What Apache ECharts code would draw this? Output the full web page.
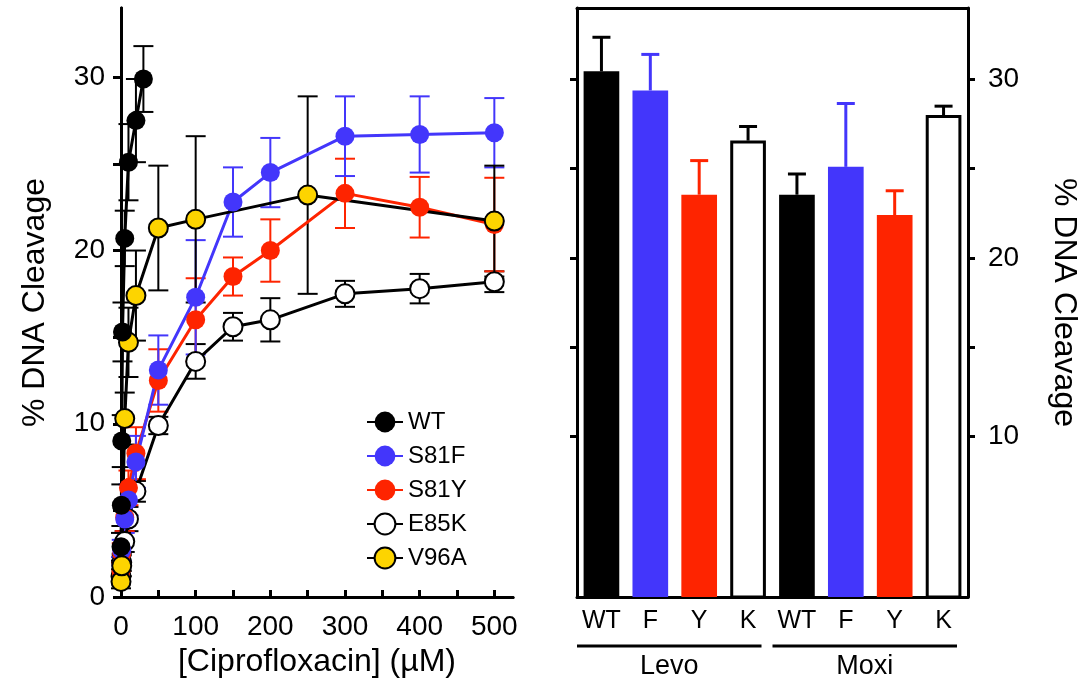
<!DOCTYPE html>
<html>
<head>
<meta charset="utf-8">
<script src="https://cdn.jsdelivr.net/npm/echarts@6/dist/echarts.min.js"></script>
<style>
  html, body { margin: 0; background: #fff; }
  #chart { width: 1081px; height: 692px; }
</style>
</head>
<body>
<div id="chart"></div>
<script>
// left panel: % cleavage vs [ciprofloxacin] (uM), value +/- error
const wtX = [0, 0.5, 1, 2, 5, 10, 20, 30];
const wtY = [2.9, 5.3, 9.0, 15.3, 20.7, 25.1, 27.5, 29.9];
const wtErr = [0.8, 1.2, 1.5, 1.7, 1.6, 2.2, 2.4, 1.9];

const s81fX = [0, 1, 5, 10, 20, 50, 100, 150, 200, 300, 400, 500];
const s81fY = [1.8, 2.7, 4.5, 5.6, 7.8, 13.1, 17.3, 22.8, 24.5, 26.6, 26.7, 26.8];
const s81fErr = [0.5, 0.6, 0.8, 0.9, 1.5, 2.0, 3.3, 2.0, 2.0, 2.3, 2.2, 2.0];

const s81yX = [0, 1, 5, 10, 20, 50, 100, 150, 200, 300, 400, 500];
const s81yY = [1.5, 2.5, 4.6, 6.3, 8.3, 12.5, 16.0, 18.5, 20.0, 23.3, 22.5, 21.5];
const s81yErr = [0.5, 0.6, 0.8, 1.0, 1.5, 1.8, 2.4, 1.1, 1.8, 2.0, 1.75, 2.7];

const e85kX = [0, 1, 5, 10, 20, 50, 100, 150, 200, 300, 400, 500];
const e85kY = [1.2, 2.0, 3.2, 4.5, 6.1, 9.9, 13.6, 15.6, 16.0, 17.5, 17.8, 18.2];
const e85kErr = [0.4, 0.5, 0.6, 0.7, 0.6, 0.5, 1.0, 0.8, 1.25, 0.75, 0.85, 0.6];

const v96aX = [0, 1, 5, 10, 20, 50, 100, 250, 500];
const v96aY = [0.9, 1.8, 10.3, 14.7, 17.4, 21.3, 21.8, 23.2, 21.7];
const v96aErr = [0.4, 0.6, 1.5, 2.0, 2.6, 3.6, 4.8, 5.7, 3.2];

const xTicks = [50, 100, 150, 200, 250, 300, 350, 400, 450, 500];
const xLabels = [0, 100, 200, 300, 400, 500];
const yTicks = [0, 5, 10, 15, 20, 25, 30];
const yLabels = [0, 10, 20, 30];

// right panel: bars per drug
const drugs = ['Levo', 'Moxi'];
const mutants = ['WT', 'F', 'Y', 'K'];
const levoVal = [30.45, 29.38, 23.54, 26.57];
const levoErr = [1.91, 2.02, 1.91, 0.79];
const moxiVal = [23.54, 25.1, 22.4, 28.0];
const moxiErr = [1.16, 3.55, 1.36, 0.5];
const barTicks = [10, 15, 20, 25, 30];
const barLabels = [10, 20, 30];

const BLUE = '#4336fb';
const RED = '#fe2400';
const YELLOW = '#fdd400';
const FONT = 'Liberation Sans, Arial, Helvetica, sans-serif';
const mutantColor = ['#000', BLUE, RED, '#fff'];

const chart = echarts.init(document.getElementById('chart'));

function errBars(color, capW, lw, upOnly) {
  return function (params, api) {
    const x = api.value(0), y = api.value(1), e = api.value(2);
    const hi = api.coord([x, y + e]);
    const lo = upOnly ? api.coord([x, y]) : api.coord([x, y - e]);
    const style = { stroke: color, lineWidth: lw };
    const kids = [
      { type: 'line', shape: { x1: hi[0], y1: hi[1], x2: lo[0], y2: lo[1] }, style: style },
      { type: 'line', shape: { x1: hi[0] - capW / 2, y1: hi[1], x2: hi[0] + capW / 2, y2: hi[1] }, style: style },
    ];
    if (!upOnly) {
      kids.push({ type: 'line', shape: { x1: lo[0] - capW / 2, y1: lo[1], x2: lo[0] + capW / 2, y2: lo[1] }, style: style });
    }
    return { type: 'group', children: kids };
  };
}

function curve(name, xs, ys, errs, lineColor, fill, border, errColor) {
  const pts = xs.map((x, i) => [x, ys[i]]);
  const err = xs.map((x, i) => [x, ys[i], errs[i]]);
  return [
    {
      name: name + ' err',
      type: 'custom',
      xAxisIndex: 0,
      yAxisIndex: 0,
      renderItem: errBars(errColor, 20, 2, false),
      encode: { x: 0, y: 1 },
      data: err,
      z: 2,
    },
    {
      name: name,
      type: 'line',
      xAxisIndex: 0,
      yAxisIndex: 0,
      data: pts,
      symbol: 'circle',
      symbolSize: 19,
      lineStyle: { color: lineColor, width: 3 },
      itemStyle: { color: fill, borderColor: border, borderWidth: border ? 2 : 0, opacity: 1 },
      z: 3,
    },
  ];
}

const cats = [];
drugs.forEach((d) => mutants.forEach((m) => cats.push(d + '|' + m)));
const barVals = levoVal.concat(moxiVal);
const barErrs = levoErr.concat(moxiErr);

const axisLineStyle = { color: '#000', width: 3 };
const labelStyle = { color: '#000', fontFamily: FONT, fontSize: 28 };
const nameStyle = { color: '#000', fontFamily: FONT, fontSize: 32 };

const option = {
  animation: false,
  backgroundColor: '#fff',
  textStyle: { fontFamily: FONT },
  grid: [
    { left: 121, top: 8, width: 392, height: 589 },
    { left: 577, top: 8, width: 393, height: 589 },
  ],
  legend: {
    data: ['WT', 'S81F', 'S81Y', 'E85K', 'V96A'],
    orient: 'vertical',
    left: 361,
    top: 405,
    itemWidth: 36,
    itemHeight: 26,
    itemGap: 10,
    textStyle: { color: '#000', fontFamily: FONT, fontSize: 24 },
  },
  xAxis: [
    {
      gridIndex: 0,
      type: 'value',
      min: 0,
      max: 525,
      name: '[Ciprofloxacin] (\u00b5M)',
      nameLocation: 'middle',
      nameGap: 45,
      nameTextStyle: nameStyle,
      axisLine: { lineStyle: axisLineStyle },
      axisTick: { inside: true, length: 7, lineStyle: { color: '#000', width: 3 }, customValues: xTicks },
      axisLabel: Object.assign({ margin: 16, customValues: xLabels }, labelStyle),
      splitLine: { show: false },
    },
    {
      gridIndex: 0,
      type: 'value',
      position: 'top',
      axisLine: { lineStyle: axisLineStyle },
      axisTick: { show: false },
      axisLabel: { show: false },
      splitLine: { show: false },
    },
    {
      gridIndex: 1,
      type: 'category',
      data: cats,
      axisLine: { lineStyle: axisLineStyle },
      axisTick: { show: false },
      axisLabel: Object.assign({ margin: 12, interval: 0, formatter: (v) => v.split('|')[1] }, labelStyle, { fontSize: 25 }),
      splitLine: { show: false },
    },
    {
      gridIndex: 1,
      type: 'value',
      position: 'top',
      axisLine: { lineStyle: axisLineStyle },
      axisTick: { show: false },
      axisLabel: { show: false },
      splitLine: { show: false },
    },
  ],
  yAxis: [
    {
      gridIndex: 0,
      type: 'value',
      min: 0,
      max: 34,
      name: '% DNA Cleavage',
      nameLocation: 'middle',
      nameGap: 70,
      nameRotate: 90,
      nameTextStyle: nameStyle,
      axisLine: { lineStyle: axisLineStyle },
      axisTick: { length: 6, lineStyle: { color: '#000', width: 3 }, customValues: yTicks },
      axisLabel: Object.assign({ margin: 16, customValues: yLabels }, labelStyle),
      splitLine: { show: false },
    },
    {
      gridIndex: 0,
      type: 'value',
      position: 'right',
      min: 0,
      max: 34,
      axisLine: { lineStyle: axisLineStyle },
      axisTick: { inside: true, length: 8, lineStyle: { color: '#000', width: 3 }, customValues: yTicks },
      axisLabel: { show: false },
      splitLine: { show: false },
    },
    {
      gridIndex: 1,
      type: 'value',
      min: 1,
      max: 34,
      axisLine: { lineStyle: axisLineStyle },
      axisTick: { length: 7, lineStyle: { color: '#000', width: 3 }, customValues: barTicks },
      axisLabel: { show: false },
      splitLine: { show: false },
    },
    {
      gridIndex: 1,
      type: 'value',
      position: 'right',
      min: 1,
      max: 34,
      name: '% DNA Cleavage',
      nameLocation: 'middle',
      nameGap: 80,
      nameRotate: -90,
      nameTextStyle: nameStyle,
      axisLine: { lineStyle: axisLineStyle },
      axisTick: { length: 7, lineStyle: { color: '#000', width: 3 }, customValues: barTicks },
      axisLabel: Object.assign({ margin: 20, customValues: barLabels }, labelStyle),
      splitLine: { show: false },
    },
  ],
  series: [].concat(
    curve('E85K', e85kX, e85kY, e85kErr, '#000', '#fff', '#000', '#000'),
    curve('S81Y', s81yX, s81yY, s81yErr, RED, RED, null, RED),
    curve('S81F', s81fX, s81fY, s81fErr, BLUE, BLUE, null, BLUE),
    curve('V96A', v96aX, v96aY, v96aErr, '#000', YELLOW, '#000', '#000'),
    curve('WT', wtX, wtY, wtErr, '#000', '#000', null, '#000'),
    [
      {
        name: 'bars',
        type: 'bar',
        xAxisIndex: 2,
        yAxisIndex: 3,
        barCategoryGap: '27%',
        data: barVals.map((v, i) => ({
          value: v,
          itemStyle: {
            color: mutantColor[i % 4],
            borderColor: i % 4 === 3 ? '#000' : mutantColor[i % 4],
            borderWidth: i % 4 === 3 ? 3 : 0,
          },
        })),
        z: 3,
      },
      {
        name: 'bar err',
        type: 'custom',
        xAxisIndex: 2,
        yAxisIndex: 3,
        renderItem: function (params, api) {
          const c = mutantColor[params.dataIndex % 4];
          return errBars(c === '#fff' ? '#000' : c, 18, 3, true)(params, api);
        },
        encode: { x: 0, y: 1 },
        data: barVals.map((v, i) => [i, v, barErrs[i]]),
        z: 2,
      },
    ]
  ),
};

chart.setOption(option);

// group underlines and drug names below the bar categories
const px = (c) => chart.convertToPixel({ xAxisIndex: 2 }, c);
const band = px(cats[1]) - px(cats[0]);
const groupY = 646;
const graphics = [];
drugs.forEach((d, k) => {
  const first = px(cats[k * 4]);
  const last = px(cats[k * 4 + 3]);
  const x1 = first - band / 2;
  const x2 = last + band / 2 - 11;
  graphics.push({
    type: 'line',
    shape: { x1: x1, y1: groupY, x2: x2, y2: groupY },
    style: { stroke: '#000', lineWidth: 3 },
  });
  graphics.push({
    type: 'text',
    x: (x1 + x2) / 2,
    y: groupY + 7,
    style: { text: d, fill: '#000', font: '27px ' + FONT, textAlign: 'center', textVerticalAlign: 'top' },
  });
});
chart.setOption({ graphic: graphics });
</script>
</body>
</html>
